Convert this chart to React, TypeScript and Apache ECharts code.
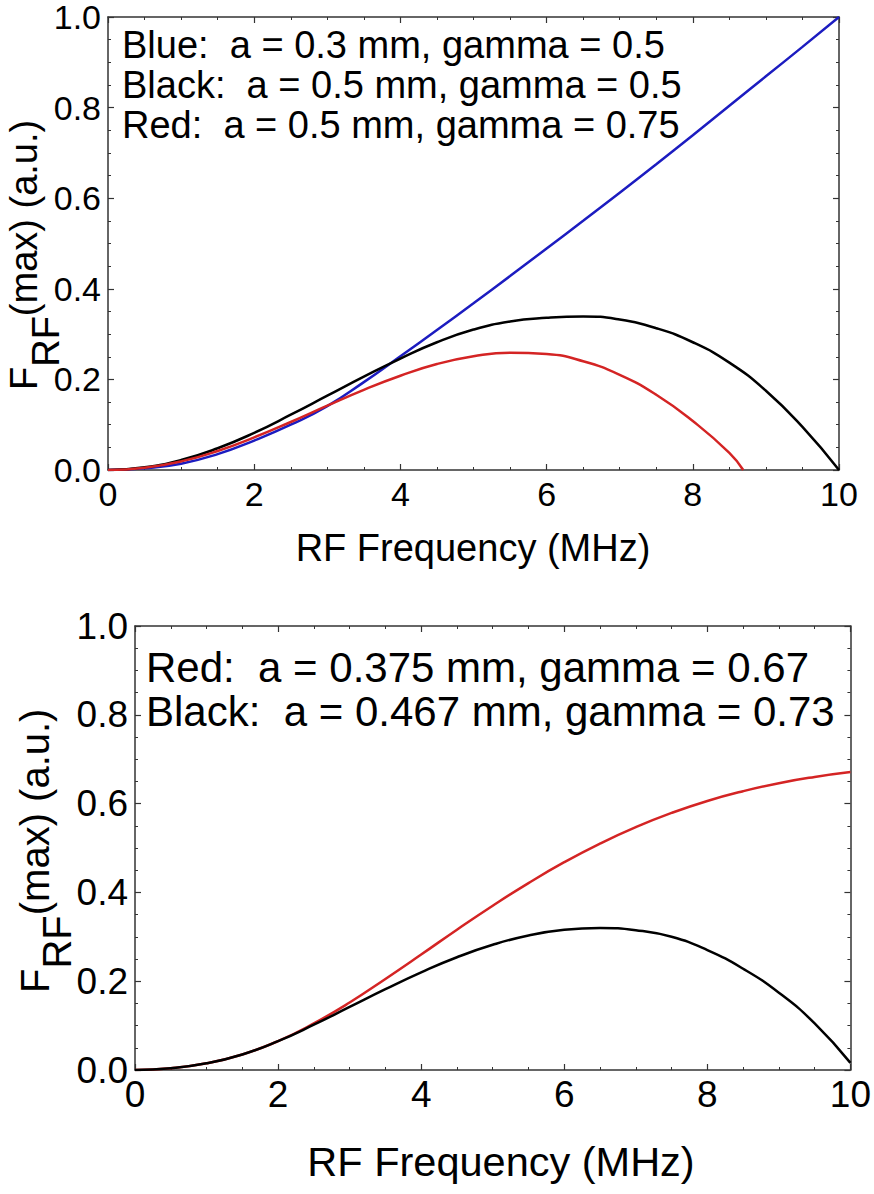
import React, { useEffect, useRef } from "react";
import * as echarts from "echarts";

// ---- Data ----
const freqGrid = [0, 0.5, 1, 1.5, 2, 2.5, 3, 3.5, 4, 4.5, 5, 5.5, 6, 6.5, 7, 7.5, 8, 8.5, 9, 9.5, 10];

// Top panel
const topBlue = [0, 0.004, 0.014, 0.035, 0.065, 0.1, 0.141, 0.194, 0.251, 0.309, 0.368, 0.428, 0.489, 0.55, 0.612, 0.675, 0.739, 0.804, 0.869, 0.934, 1.0];
const topBlack = [0, 0.006, 0.022, 0.048, 0.082, 0.122, 0.164, 0.206, 0.246, 0.282, 0.31, 0.328, 0.336, 0.339, 0.332, 0.313, 0.282, 0.237, 0.175, 0.095, 0.0];
const topRedFreq = [0, 0.5, 1, 1.5, 2, 2.5, 3, 3.5, 4, 4.5, 5, 5.5, 6, 6.5, 7, 7.5, 8, 8.5, 8.69];
const topRed = [0, 0.005, 0.019, 0.042, 0.072, 0.106, 0.142, 0.177, 0.208, 0.234, 0.251, 0.259, 0.256, 0.24, 0.21, 0.166, 0.108, 0.038, 0.0];

// Bottom panel
const botRed = [0, 0.004, 0.015, 0.035, 0.065, 0.105, 0.152, 0.205, 0.26, 0.316, 0.37, 0.421, 0.468, 0.51, 0.547, 0.579, 0.606, 0.628, 0.646, 0.66, 0.671];
const botBlack = [0, 0.004, 0.015, 0.035, 0.065, 0.102, 0.142, 0.182, 0.22, 0.254, 0.282, 0.303, 0.316, 0.32, 0.315, 0.3, 0.27, 0.228, 0.174, 0.105, 0.016];

const topLegend = [
  "Blue:  a = 0.3 mm, gamma = 0.5",
  "Black:  a = 0.5 mm, gamma = 0.5",
  "Red:  a = 0.5 mm, gamma = 0.75",
];
const botLegend = [
  "Red:  a = 0.375 mm, gamma = 0.67",
  "Black:  a = 0.467 mm, gamma = 0.73",
];
const xTitle = "RF Frequency (MHz)";

const FONT = "'Liberation Sans', Arial, Helvetica, sans-serif";
const BLUE = "#1c1cc0";
const RED = "#d42424";
const BLACK = "#000000";

const pairs = (xs: number[], ys: number[]) => xs.map((x, i) => [x, ys[i]]);

function axisCommon(showLabel: boolean, fontSize: number, isY: boolean, position: string, gridIndex: number) {
  return {
    type: "value",
    gridIndex,
    position,
    min: 0,
    max: isY ? 1 : 10,
    interval: isY ? 0.2 : 2,
    axisLine: { show: true, onZero: false, lineStyle: { color: "#333", width: 1.5 } },
    axisTick: { show: true, inside: true, length: 6, lineStyle: { color: "#333", width: 1.2 } },
    minorTick: { show: true, splitNumber: 4, length: 3, lineStyle: { color: "#333", width: 1 } },
    splitLine: { show: false },
    minorSplitLine: { show: false },
    axisLabel: {
      show: showLabel,
      color: "#000",
      fontFamily: FONT,
      fontSize,
      lineHeight: Math.round(fontSize * 0.9),
      margin: isY ? 7 : 8,
      formatter: (v: number) => (isY ? v.toFixed(1) : String(Math.round(v))),
      showMinLabel: true,
      showMaxLabel: true,
    },
  };
}

export default function App() {
  const ref = useRef<HTMLDivElement>(null);
  useEffect(() => {
    if (!ref.current) return;
    const chart = echarts.init(ref.current, null, { renderer: "svg" });
    const lineSeries = (name: string, xi: number, data: number[][], color: string) => ({
      name,
      type: "line",
      xAxisIndex: xi,
      yAxisIndex: xi,
      data,
      smooth: true,
      showSymbol: false,
      symbol: "none",
      lineStyle: { color, width: 2.5 },
      clip: true,
    });

    const legendTexts: any[] = [];
    topLegend.forEach((t, i) => {
      legendTexts.push({
        type: "text",
        x: 122,
        y: [45, 84.5, 124.5][i],
        style: { text: t, fontFamily: FONT, fontSize: 38, fill: "#000", align: "left", verticalAlign: "middle" },
      });
    });
    botLegend.forEach((t, i) => {
      legendTexts.push({
        type: "text",
        x: 146,
        y: [667.5, 711][i],
        style: { text: t, fontFamily: FONT, fontSize: 42, fill: "#000", align: "left", verticalAlign: "middle" },
      });
    });

    const yTitle = (fs: number, startY: number, cF: number, cSub: number) => {
      const wF = 0.611 * fs;
      const wRF = 1.333 * fs;
      return [
        { type: "text", x: cF, y: startY, rotation: Math.PI / 2, style: { text: "F", fontFamily: FONT, fontSize: fs, fill: "#000", align: "left", verticalAlign: "middle" } },
        { type: "text", x: cSub, y: startY - wF, rotation: Math.PI / 2, style: { text: "RF", fontFamily: FONT, fontSize: fs, fill: "#000", align: "left", verticalAlign: "middle" } },
        { type: "text", x: cF, y: startY - wF - wRF, rotation: Math.PI / 2, style: { text: "(max) (a.u.)", fontFamily: FONT, fontSize: fs, fill: "#000", align: "left", verticalAlign: "middle" } },
      ];
    };

    const option: any = {
      animation: false,
      backgroundColor: "#fff",
      grid: [
        { left: 108, top: 17, width: 731, height: 453, containLabel: false },
        { left: 135, top: 626, width: 718, height: 444, containLabel: false },
      ],
      xAxis: [
        axisCommon(true, 34, false, "bottom", 0),
        axisCommon(true, 37, false, "bottom", 1),
        axisCommon(false, 34, false, "top", 0),
        axisCommon(false, 37, false, "top", 1),
      ],
      yAxis: [
        axisCommon(true, 34, true, "left", 0),
        axisCommon(true, 37, true, "left", 1),
        axisCommon(false, 34, true, "right", 0),
        axisCommon(false, 37, true, "right", 1),
      ],
      series: [
        lineSeries("Blue", 0, pairs(freqGrid, topBlue), BLUE),
        lineSeries("Black", 0, pairs(freqGrid, topBlack), BLACK),
        lineSeries("Red", 0, pairs(topRedFreq, topRed), RED),
        lineSeries("Red", 1, pairs(freqGrid, botRed), RED),
        lineSeries("Black", 1, pairs(freqGrid, botBlack), BLACK),
      ],
      graphic: [
        ...legendTexts,
        { type: "text", x: 473, y: 547.5, style: { text: xTitle, fontFamily: FONT, fontSize: 38, fill: "#000", align: "center", verticalAlign: "middle" } },
        { type: "text", x: 501, y: 1161.5, style: { text: xTitle, fontFamily: FONT, fontSize: 41.5, fill: "#000", align: "center", verticalAlign: "middle" } },
        ...yTitle(38, 390, 24, 46),
        ...yTitle(40, 993, 35, 57),
      ],
    };
    chart.setOption(option);
    return () => chart.dispose();
  }, []);
  return (
    <div
      ref={ref}
      style={{ position: "fixed", left: 0, top: 0, width: 874, height: 1194, background: "#fff" }}
    />
  );
}
